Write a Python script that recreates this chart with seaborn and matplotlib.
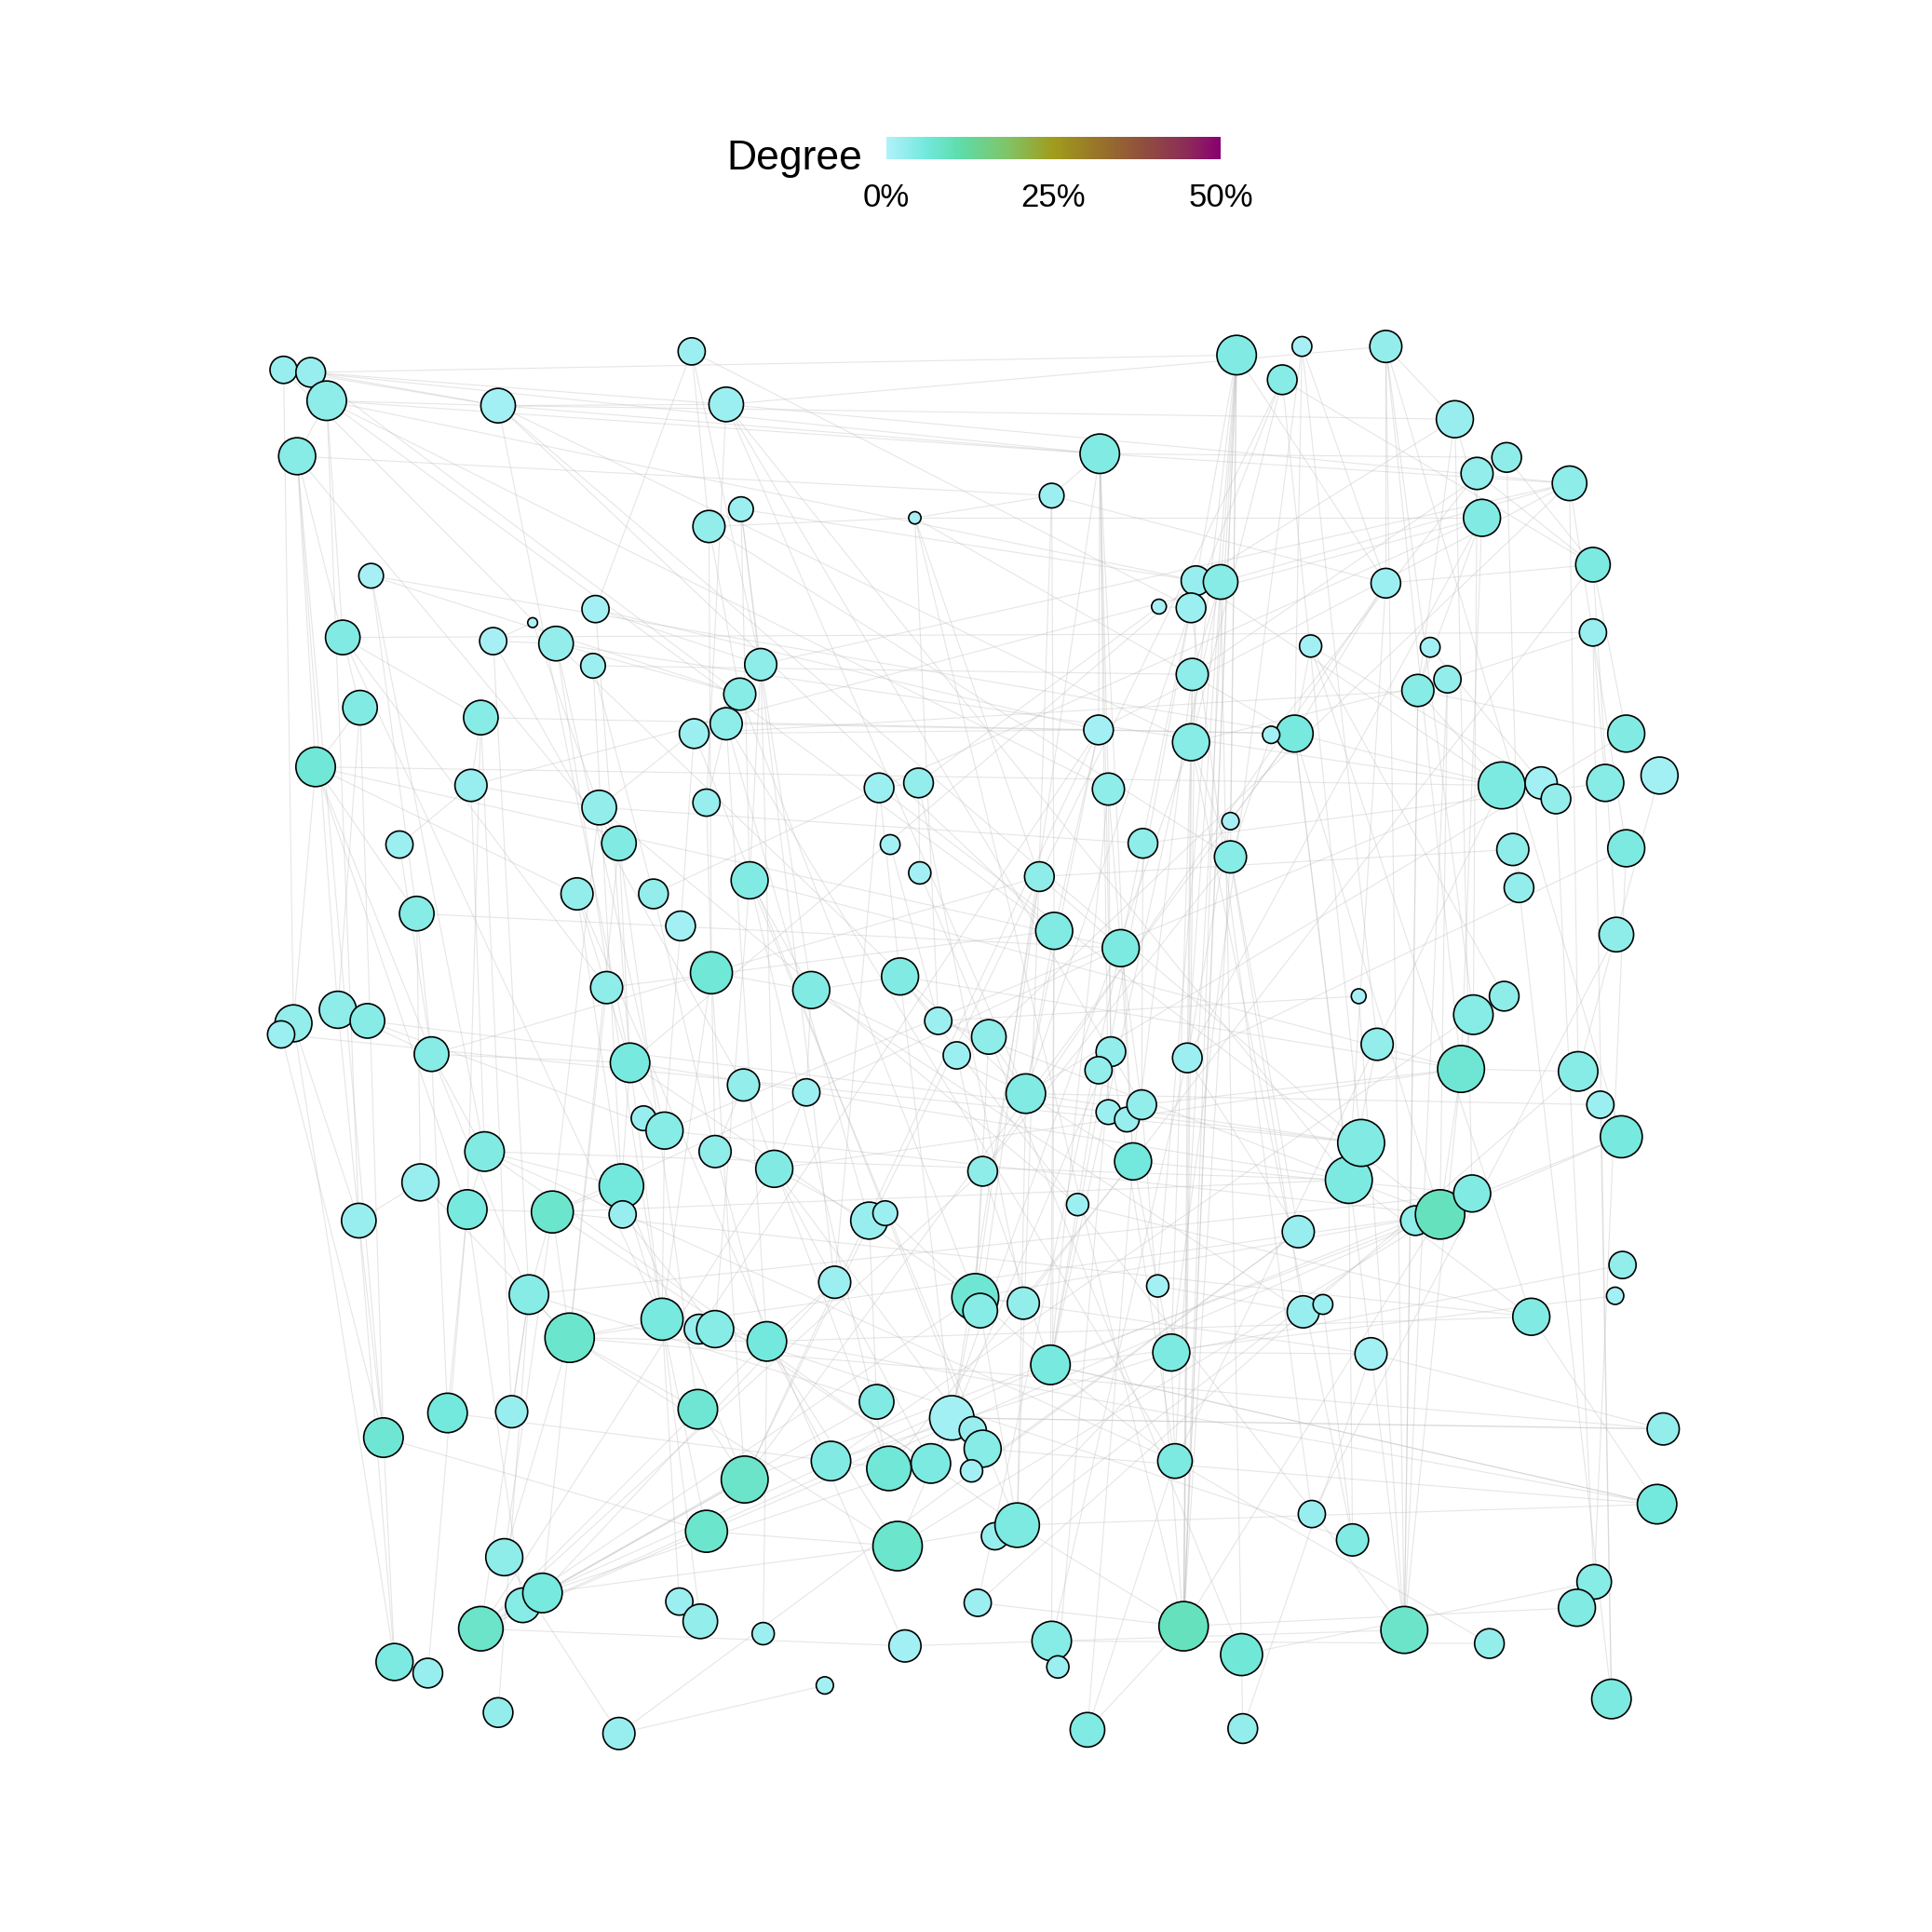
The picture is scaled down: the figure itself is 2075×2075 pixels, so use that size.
import numpy as np
import pandas as pd
import seaborn as sns
import matplotlib.pyplot as plt
from matplotlib.colors import LinearSegmentedColormap, Normalize
from matplotlib.cm import ScalarMappable
from matplotlib.collections import LineCollection

# Node layout (1567 px space), node radius and degree (%)
node_x = [230, 252, 265, 241, 404, 561, 589, 301, 278, 432,
          400, 451, 483, 481, 575, 601, 742, 853, 892, 1003,
          1056, 1124, 1040, 1180, 1198, 1222, 1273, 1202, 1292, 1292,
          1124, 1160, 1063, 1150, 1174, 970, 990, 966, 940, 967,
          1050, 1031, 966, 891, 899, 998, 998, 927, 713, 745,
          722, 746, 843, 855, 909, 617, 600, 589, 563, 573,
          608, 486, 502, 468, 530, 552, 390, 382, 292, 256,
          324, 338, 577, 658, 730, 492, 274, 298, 238, 228,
          350, 511, 603, 654, 761, 802, 776, 832, 901, 891,
          963, 899, 914, 926, 522, 539, 580, 628, 393, 341,
          379, 448, 504, 505, 291, 797, 874, 919, 705, 718,
          429, 462, 537, 567, 580, 622, 677, 791, 795, 830,
          852, 939, 950, 1053, 1094, 1104, 1148, 1168, 1194, 1185,
          1195, 1220, 1102, 1117, 1280, 1298, 1315, 1311, 1232, 1227,
          1319, 1218, 1250, 1262, 1302, 1346, 1319, 1316, 1310, 1242,
          1057, 1073, 1112, 1349, 1344, 1293, 1279, 1307, 1208, 1139,
          1097, 1064, 953, 960, 1007, 1008, 882, 853, 858, 793,
          807, 825, 728, 734, 669, 619, 711, 772, 789, 797,
          788, 755, 721, 674, 604, 566, 573, 551, 568, 502,
          404, 347, 320, 390, 424, 440, 409, 415, 363, 311]
node_y = [300, 302, 325, 370, 329, 285, 328, 467, 517, 505,
          520, 522, 494, 540, 427, 413, 420, 402, 368, 288,
          281, 281, 308, 340, 384, 371, 392, 420, 458, 513,
          473, 525, 524, 560, 551, 471, 472, 493, 492, 547,
          595, 596, 602, 592, 640, 666, 695, 684, 639, 635,
          685, 708, 711, 755, 769, 539, 563, 587, 595, 651,
          714, 655, 684, 725, 725, 751, 582, 637, 574, 622,
          685, 741, 789, 803, 792, 801, 819, 828, 830, 839,
          855, 862, 880, 886, 828, 841, 856, 887, 853, 868,
          858, 902, 908, 896, 907, 917, 934, 948, 934, 959,
          981, 983, 962, 985, 990, 950, 977, 942, 990, 984,
          1050, 1085, 1070, 1078, 1078, 1088, 1040, 1052, 1063, 1057,
          1107, 1043, 1097, 999, 957, 927, 990, 985, 968, 867,
          823, 808, 808, 847, 869, 896, 922, 758, 720, 689,
          688, 637, 635, 648, 635, 629, 595, 1026, 1051, 1068,
          1064, 1058, 1098, 1159, 1220, 1283, 1304, 1378, 1333, 1322,
          1249, 1228, 1185, 1319, 1342, 1402, 1403, 1331, 1352, 1300,
          1246, 1237, 1254, 1335, 1367, 1325, 1137, 1150, 1160, 1175,
          1193, 1187, 1191, 1185, 1200, 1143, 1242, 1299, 1315, 1406,
          1389, 1357, 1348, 1321, 1302, 1292, 1263, 1145, 1146, 1166]
node_r = [11, 12, 16, 15, 14, 11, 14, 10, 14, 4,
          11, 14, 11, 10, 13, 10, 5, 10, 16, 16,
          8, 13, 12, 15, 13, 12, 14, 15, 14, 11,
          12, 8, 9, 13, 11, 12, 14, 12, 6, 13,
          15, 7, 15, 12, 13, 7, 13, 12, 12, 12,
          8, 9, 12, 15, 15, 13, 13, 13, 12, 11,
          15, 14, 14, 13, 12, 12, 14, 13, 14, 16,
          11, 14, 17, 15, 15, 13, 15, 14, 15, 11,
          14, 16, 13, 11, 11, 14, 11, 16, 12, 11,
          12, 10, 10, 12, 10, 15, 13, 15, 16, 15,
          16, 17, 18, 11, 14, 12, 9, 15, 15, 10,
          16, 20, 17, 12, 15, 16, 13, 19, 14, 13,
          16, 9, 15, 13, 19, 19, 12, 20, 15, 19,
          16, 12, 6, 13, 16, 11, 17, 14, 12, 13,
          15, 19, 13, 12, 15, 15, 15, 11, 7, 15,
          13, 8, 13, 13, 16, 14, 15, 16, 12, 19,
          13, 11, 14, 20, 17, 12, 14, 16, 9, 11,
          11, 18, 20, 13, 7, 9, 14, 18, 11, 15,
          9, 16, 18, 16, 19, 16, 17, 11, 14, 13,
          12, 12, 15, 18, 14, 16, 15, 13, 16, 16]
degree_pct = [2.5, 2.5, 3.5, 4, 1.5, 2, 2, 1, 4.5, 0.5,
              1, 3, 1.5, 2, 3, 2, 1, 2, 4.5, 4.5,
              1, 3, 4, 2.5, 3, 3.5, 3.5, 4.5, 5, 2.5,
              2, 1.5, 1.5, 4, 3, 2.5, 4, 2, 1, 3.5,
              5.5, 1.5, 4, 1.5, 3.5, 1, 4, 3.5, 2, 3,
              1.5, 1.5, 3.5, 4.5, 5, 3.5, 4, 3.5, 2, 2.5,
              4.5, 3, 4.5, 3, 3, 1.5, 4, 2.5, 4.5, 6.5,
              2, 4, 6.5, 4.5, 4.5, 3.5, 3.5, 4, 3, 2,
              4, 5.5, 3, 2, 2, 3.5, 2, 4.5, 3, 3,
              2, 2, 2.5, 3, 2.5, 4, 3.5, 4.5, 4.5, 2.5,
              5.5, 7.5, 6, 2.5, 2.5, 3.5, 2, 6, 2.5, 2,
              4, 7.5, 5.5, 2.5, 4, 6, 2, 7, 4, 3,
              5.5, 1.5, 5, 2.5, 5, 4.5, 3.5, 9, 4.5, 7,
              4, 3.5, 1, 3, 4, 2, 5.5, 3.5, 3, 3.5,
              5, 5, 1.5, 3, 4, 1.5, 4.5, 3, 1.5, 4.5,
              2.5, 2, 1.5, 3, 6, 4, 4.5, 5, 3, 8,
              4.5, 2.5, 5, 9, 6.5, 3, 4.5, 4, 2, 2,
              2.5, 5, 7.5, 1.5, 1.5, 2, 4.5, 1.5, 2.5, 4,
              1.5, 5, 6.5, 4.5, 8, 7, 7.5, 2, 3, 2.5,
              3, 2.5, 5, 8, 4, 5.5, 3.5, 2.5, 6, 7]

# edges: node id -> linked node ids
links = {
    1: [2, 5, 79, 19, 12], 2: [3, 5, 7, 20, 57], 3: [4, 19, 5, 105, 54, 36, 9, 45],
    4: [9, 70, 77, 200, 18, 63], 5: [7, 19, 24, 82, 43, 54, 126], 6: [15, 13, 56, 38],
    7: [22, 27, 60, 88, 94, 125], 8: [72, 57, 99, 41], 9: [67, 76, 69, 30], 10: [11, 62],
    11: [12, 83, 111], 12: [57, 96, 113, 88, 142], 13: [44, 82, 56], 14: [40, 65, 103],
    15: [73, 57, 17, 47], 16: [56, 61, 36, 117], 17: [18, 28, 53, 85, 164, 41],
    18: [19, 54, 31, 172],
    19: [44, 45, 89, 27, 26, 92, 108, 118], 20: [36, 47, 91, 122, 164, 43, 46, 31],
    21: [41, 31, 134, 123], 22: [24, 31, 130, 160, 137], 23: [43, 38, 53, 29, 126],
    24: [28, 34, 129, 36], 25: [29, 131, 42], 26: [29, 139, 40], 27: [37, 141, 44, 86, 56],
    28: [34, 130, 49, 68, 91], 29: [147, 31, 138], 30: [145, 158, 35], 31: [41, 125],
    32: [34, 143], 33: [41, 150], 34: [142, 160, 59], 35: [128, 43],
    36: [37, 55, 164, 121, 82],
    37: [40, 121, 165], 38: [39, 88], 39: [50], 40: [43, 108],
    41: [46, 125, 128, 153, 142, 67], 42: [47], 43: [47, 123, 91], 44: [54, 88, 59, 185],
    45: [55, 121, 89], 46: [91], 47: [164, 124, 106], 48: [94, 62], 49: [50, 75, 65, 128],
    50: [52, 120], 51: [85], 52: [86], 53: [55, 119, 81, 178], 54: [88, 121, 168, 76],
    55: [94, 108, 72], 56: [61, 98, 74], 57: [59, 62, 118], 58: [60, 116, 41, 163],
    59: [66], 60: [73], 61: [74, 115, 183, 130], 62: [63, 102, 68], 63: [82, 112],
    64: [76, 103, 70], 65: [97], 66: [96], 67: [68, 101], 68: [71, 99],
    69: [70, 77, 200], 70: [72, 79, 101, 111, 142, 55], 71: [81], 72: [81, 100],
    73: [74, 97, 185, 113], 74: [75, 84, 88, 151], 75: [85, 178, 130, 160], 76: [82, 112],
    77: [78, 81, 105], 78: [96, 126], 79: [80, 105, 193], 80: [200], 81: [99, 82],
    82: [96, 103, 125, 118], 83: [97, 183], 84: [98], 85: [86, 125], 86: [88, 118, 165],
    87: [106], 88: [108, 126, 172], 89: [90, 163, 173], 90: [107], 91: [124, 164],
    92: [93], 93: [94], 94: [130], 95: [96], 96: [113, 128], 97: [98, 116],
    98: [109, 182], 99: [101, 103, 125], 100: [105, 112], 101: [102, 199],
    102: [103, 111, 112, 150, 197, 125, 55], 103: [104, 113, 185], 104: [115], 105: [200],
    106: [118, 121, 31, 194], 107: [121, 62], 108: [123, 129, 183], 109: [177, 58],
    110: [118],
    111: [112, 198, 194], 112: [113, 186, 196, 154, 116, 128], 113: [187, 9],
    114: [44], 115: [161], 116: [117, 184, 173], 117: [49],
    118: [119, 120, 121, 178, 153, 128], 119: [172], 120: [29], 121: [163, 155, 196],
    122: [151], 123: [163, 153, 184], 124: [190], 125: [126, 128, 150, 161], 126: [80],
    127: [172], 128: [129, 130, 137, 173, 185, 194, 164], 129: [111],
    130: [131, 135, 160, 98], 131: [22], 132: [33], 133: [85], 134: [125],
    135: [27, 151], 136: [88], 137: [121], 138: [162], 139: [140, 158], 140: [53],
    141: [91], 142: [36, 163, 96], 143: [33], 144: [156], 145: [48], 146: [135],
    147: [34, 88], 148: [123], 149: [121], 150: [107, 155, 116], 151: [47, 170],
    152: [161],
    153: [160], 154: [178, 153], 155: [172, 121, 180, 113], 156: [141, 165], 157: [164],
    158: [136], 159: [163], 160: [34, 168, 35, 133], 161: [43], 162: [38],
    163: [20, 99], 164: [167, 172, 170, 40, 37, 94, 20], 165: [166], 166: [153],
    167: [163, 108], 168: [159, 174, 91], 169: [89], 170: [55], 171: [123],
    172: [173, 99, 61], 173: [112, 196, 187], 174: [194, 64], 175: [190], 176: [116],
    177: [111], 178: [154, 194], 179: [59], 180: [98], 181: [124], 182: [102, 43],
    183: [199], 184: [131], 185: [186, 194, 196, 41, 53], 186: [63], 187: [200],
    188: [113], 189: [82], 190: [197], 191: [111], 192: [101], 193: [105],
    194: [116, 177, 118, 98], 195: [101], 196: [182, 117], 197: [112], 198: [67],
    199: [81], 200: [193],
}

nodes = pd.DataFrame({'x': node_x, 'y': node_y, 'r': node_r, 'degree': degree_pct},
                     index=np.arange(1, len(node_x) + 1))

cmap = LinearSegmentedColormap.from_list('degree', [
    (0.0, '#b0f2fa'), (0.12, '#72e8dc'), (0.22, '#5edcaa'), (0.36, '#80c468'),
    (0.5, '#a09c1c'), (0.64, '#98722a'), (0.78, '#904c40'), (0.9, '#8c2c58'),
    (1.0, '#880070')])

sns.set_style('white')
plt.rcParams['font.family'] = ['Liberation Sans', 'DejaVu Sans']
plt.rcParams['text.color'] = 'black'

fig = plt.figure(figsize=(10.375, 10.375), dpi=200)
ax = fig.add_axes([0, 0, 1, 1])

# edges
segs = [[(nodes.x[a], nodes.y[a]), (nodes.x[b], nodes.y[b])]
        for a, bs in links.items() for b in bs]
ax.add_collection(LineCollection(segs, colors='#bdbdbd', linewidths=0.4,
                                 alpha=0.38, zorder=1))

# nodes: radius in layout px -> marker area in points^2
px_to_pt = (2075 / 1567) * 72 / 200
nodes['s'] = (2 * nodes.r * px_to_pt) ** 2
sns.scatterplot(data=nodes, x='x', y='y', hue='degree', palette=cmap,
                hue_norm=(0, 50), s=nodes['s'].values, edgecolor='black',
                linewidth=0.6, legend=False, ax=ax, zorder=2)

ax.set_xlim(0, 1567)
ax.set_ylim(1567, 0)
ax.axis('off')

# colour bar legend
cax = fig.add_axes([952 / 2075, 1 - 171 / 2075, 359 / 2075, 24 / 2075])
cb = fig.colorbar(ScalarMappable(norm=Normalize(0, 50), cmap=cmap), cax=cax,
                  orientation='horizontal', ticks=[0, 25, 50])
cb.outline.set_visible(False)
cb.set_ticklabels(['0%', '25%', '50%'])
cax.tick_params(axis='x', direction='in', color='white', length=3, width=0.8,
                labelsize=12.5, labelcolor='black', pad=9, top=True, bottom=True)
fig.text(926 / 2075, 1 - 182 / 2075, 'Degree', ha='right', va='baseline',
         fontsize=16, color='black')

fig.savefig('out.png', dpi=200)
